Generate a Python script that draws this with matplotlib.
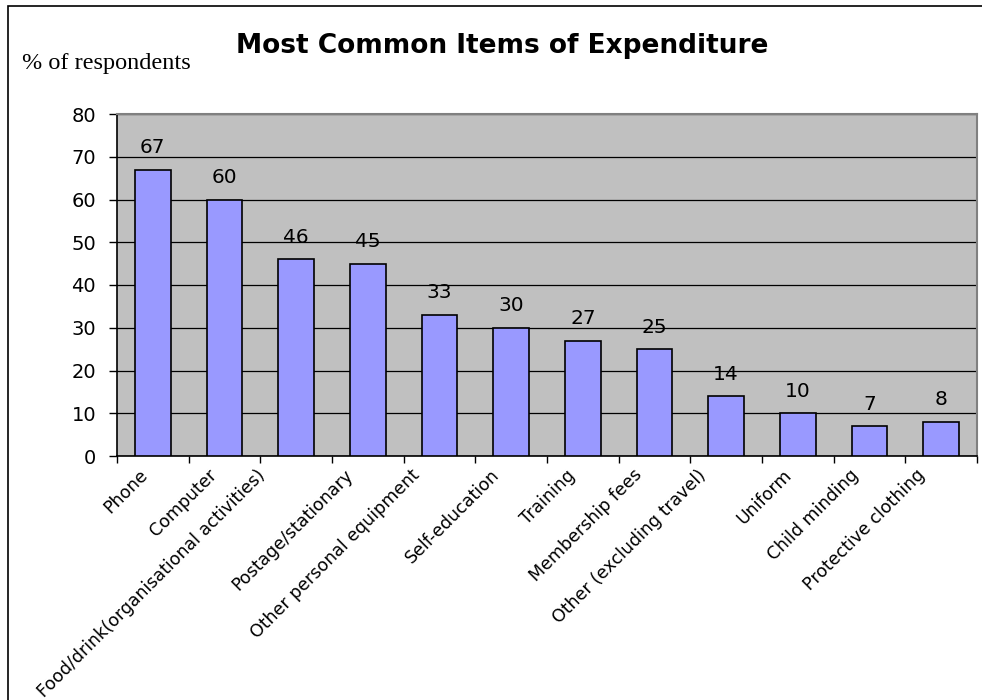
import matplotlib
matplotlib.use("Agg")
import matplotlib.pyplot as plt
from matplotlib.patches import Rectangle
from matplotlib.transforms import ScaledTranslation

# data
categories = ["Phone", "Computer", "Food/drink(organisational activities)",
              "Postage/stationary", "Other personal equipment", "Self-education",
              "Training", "Membership fees", "Other (excluding travel)",
              "Uniform", "Child minding", "Protective clothing"]
percent = [67, 60, 46, 45, 33, 30, 27, 25, 14, 10, 7, 8]
yticks = [0, 10, 20, 30, 40, 50, 60, 70, 80]

plt.rcParams['font.family'] = ['DejaVu Sans']

fig = plt.figure(figsize=(9.82, 7.0), dpi=100)
ax = fig.add_axes([117/982, 1 - 456/700, (977 - 117)/982, (456 - 114)/700])
ax.set_facecolor("#C0C0C0")

# figure frame (only left/top visible in the reference)
fig.patches.append(Rectangle((8/982, -0.05), 1.2, 1 - 6/700 + 0.05,
                             transform=fig.transFigure, fill=False,
                             edgecolor="black", linewidth=1.2, zorder=0))

x = list(range(len(categories)))
bars = ax.bar(x, percent, width=0.5, color="#9999FF", edgecolor="black",
              linewidth=1.2, zorder=3)

for xi, v in zip(x, percent):
    ax.annotate(str(v), (xi, v), xytext=(0, 9), textcoords="offset points",
                ha="center", va="bottom", fontsize=14.5)

ax.set_xlim(-0.5, len(categories) - 0.5)
ax.set_ylim(0, 80)
ax.set_yticks(yticks)
ax.set_yticklabels([str(t) for t in yticks], fontsize=14)
ax.yaxis.grid(True, color="black", linewidth=0.9, zorder=1)
ax.set_axisbelow(True)

# category boundary ticks, labels placed at centres
ax.set_xticks([i - 0.5 for i in range(len(categories) + 1)])
ax.set_xticklabels([])
ax.tick_params(axis="x", direction="out", length=5, width=1)
ax.tick_params(axis="y", direction="out", length=6, width=1, pad=9)

# excel pushes longer rotated labels further left
for xi, lab in zip(x, categories):
    shift = 10 + 0.8 * len(lab)
    offset = ScaledTranslation(-shift/100, -10/100, fig.dpi_scale_trans)
    ax.text(xi, 0, lab, transform=ax.get_xaxis_transform() + offset,
            rotation=45, ha="right", va="top", rotation_mode="anchor",
            fontsize=12.5)

for side in ["left", "bottom"]:
    ax.spines[side].set_color("black")
    ax.spines[side].set_linewidth(1.2)
for side in ["top", "right"]:
    ax.spines[side].set_color("#808080")
    ax.spines[side].set_linewidth(1.5)

fig.text(502/982, 1 - 46/700, "Most Common Items of Expenditure",
         ha="center", va="center", fontsize=19, fontweight="bold")
fig.text(22/982, 1 - 63/700, "% of respondents", ha="left", va="center",
         fontsize=17.5, family=["Liberation Serif"])

fig.savefig("out.png", dpi=100)
